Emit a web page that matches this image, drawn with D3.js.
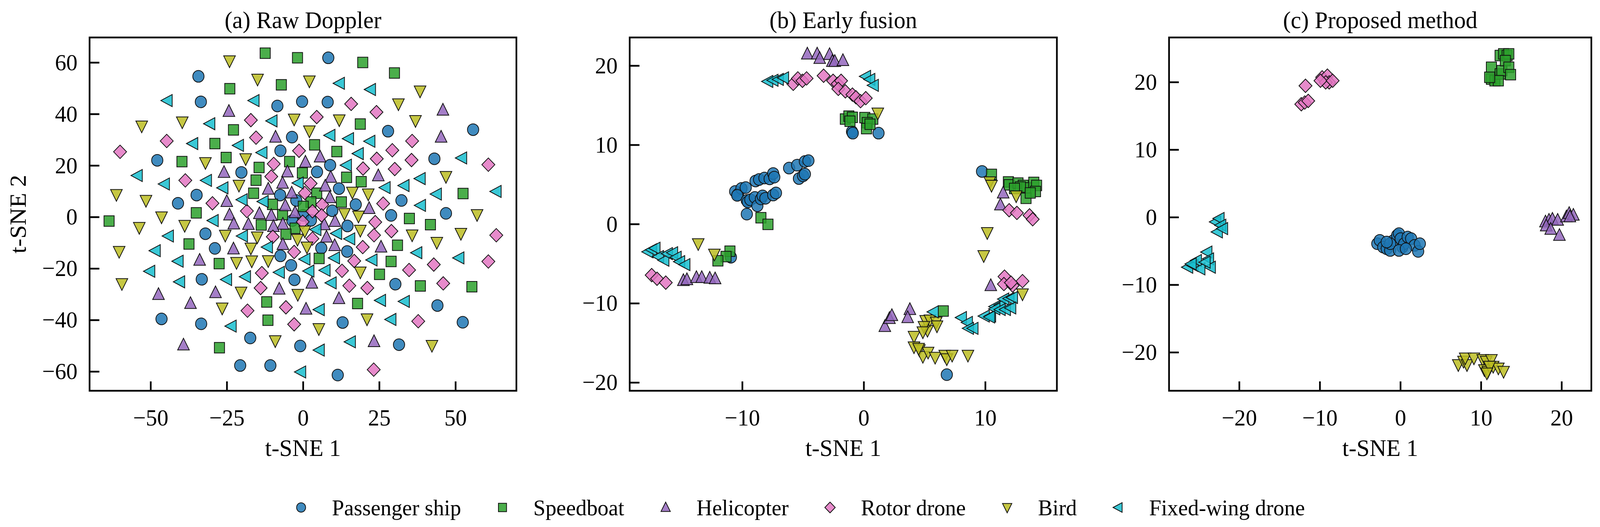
<html>
<script src="https://d3js.org/d3.v7.min.js"></script>
<style> html, body {margin:0; padding:0; overflow:hidden; background:#fff;} svg {display:block;} text {font-family:"Liberation Serif","Times New Roman",serif; fill:#000;} </style>
<body>
<svg viewBox="0 0 4251 1350" preserveAspectRatio="none" style="width:100vw;height:100vh"></svg>
<script>
// class names and colours
var classes = ["Passenger ship", "Speedboat", "Helicopter", "Rotor drone", "Bird", "Fixed-wing drone"];
var colors = ["#1f77b4", "#2ca02c", "#9467bd", "#e377c2", "#bcbd22", "#17becf"];
var shapes = ["circle", "square", "up", "diamond", "down", "left"];

// (a) raw doppler
var rawShip = [[-34.3,54.6],[-33.5,44.7],[8.3,61.8],[-0.3,44.8],[8.1,44.6],[-8.4,43.1],[27.9,33.3],[55.8,33.9],[-3.6,31.0],[-7.4,25.7],[-47.8,22.0],[8.9,20.1],[-20.2,17.3],[4.6,17.5],[43.1,22.6],[-34.9,8.5],[11.8,11.0],[-7.5,8.5],[-41.0,5.3],[-2.2,6.4],[32.3,6.4],[17.3,4.8],[9.6,2.4],[46.9,1.4],[0,0.6],[28.9,0.6],[2.6,-1.3],[-3.5,-1.4],[-32.0,-6.5],[14.6,-3.5],[-28.9,-12.2],[6.0,-12.1],[14.5,-13.4],[-7.4,-15.1],[-3.9,-18.8],[-33.2,-24.2],[-2.8,-24.4],[30.3,-26.1],[44.1,-34.4],[-46.4,-39.6],[-33.4,-41.5],[13.0,-41.0],[52.4,-40.9],[-17.3,-47.0],[-0.9,-50.1],[31.5,-49.6],[-20.6,-57.7],[-10.7,-57.7],[11.4,-61.4]];
var rawBoat = [[-12.4,63.6],[-1.8,61.8],[19.6,60.0],[30.0,55.9],[-24.0,49.8],[-7.1,51.3],[18.8,36.1],[-22.8,33.8],[3.8,28.0],[-28.9,28.5],[11.1,25.4],[-39.7,21.5],[-25.2,23.1],[-4.4,21.5],[-14.4,19.2],[-0.2,17.1],[14.3,15.4],[-15.4,14.3],[19.1,13.7],[4.5,9.2],[-16.2,9.2],[-35.0,1.6],[12.6,5.8],[2.6,5.8],[-10.0,4.9],[0.1,4.1],[-6.7,0.9],[52.5,9.1],[34.9,-0.6],[-13.7,-3.1],[-2.6,-4.4],[41.8,-3.0],[-5.6,-6.7],[-37.4,-10.5],[31.0,-11.0],[5.3,-16.1],[-27.5,-18.1],[28.9,-17.3],[25.1,-22.3],[38.5,-26.8],[55.4,-27.1],[-11.9,-33.0],[17.9,-33.6],[-11.5,-40.1],[-27.4,-50.8],[-63.6,-1.6]];
var rawHeli = [[-24.3,41.0],[45.9,41.5],[-9.0,31.0],[45.3,31.0],[5.6,23.3],[0.8,21.3],[-25.9,17.3],[-5.1,17.5],[9.1,15.4],[24.7,16.0],[-6.7,13.1],[7.3,12.0],[-11.4,10.8],[-3.7,9.3],[8.8,7.5],[-25.0,6.0],[-5.8,4.4],[21.7,3.3],[-24.1,0.8],[-14.3,1.3],[-10.4,0.6],[-2.6,1.7],[-22.7,-2.7],[-17.9,-2.9],[-6.6,-2.8],[7.0,-3.0],[10.5,-1.7],[-9.7,-3.7],[7.7,-7.8],[25.6,-11.7],[-22.8,-12.4],[-6.6,-10.7],[10.4,-11.1],[-33.9,-16.8],[2.9,-25.7],[-7.8,-28.0],[-28.7,-29.4],[-47.4,-30.1],[-36.9,-33.6],[1.0,-35.8],[11.8,-31.7],[23.3,-48.4],[-39.2,-49.7]];
var rawRotor = [[-60.0,25.3],[-44.7,29.5],[-17.1,37.6],[-15.4,30.8],[4.5,38.8],[15.8,43.9],[24.1,40.7],[35.8,29.5],[29.3,25.9],[-1.3,25.7],[-38.6,14.2],[-9.6,20.6],[-10.4,15.7],[2.5,13.0],[24.2,22.6],[35.6,22.1],[60.8,20.3],[0.6,9.3],[19.7,18.8],[30.1,18.6],[-29.7,5.3],[-18.4,2.3],[6.3,4.8],[3.1,2.2],[6.1,0.6],[26.3,5.2],[-0.1,-1.9],[23.7,-2.0],[29.0,-5.5],[23.3,-7.1],[3.1,-8.4],[-9.9,-7.7],[19.6,-11.7],[63.4,-7.1],[-2.9,-13.6],[16.8,-17.1],[12.8,-20.9],[42.9,-18.5],[60.8,-17.3],[-13.5,-21.8],[34.8,-20.6],[-13.9,-27.6],[15.2,-26.7],[21.1,-27.6],[46.0,-25.8],[-5.6,-35.1],[-18.2,-36.4],[-2.9,-41.7],[37.8,-40.5],[23.2,-59.3]];
var rawBird = [[-24.1,60.6],[-14.9,53.5],[2.1,52.8],[38.4,48.9],[31.3,43.9],[-52.9,35.3],[-39.6,36.9],[-2.9,38.0],[11.9,37.7],[2.1,33.4],[36.9,37.4],[-32.0,21.1],[-18.8,22.6],[46.9,15.7],[-21.0,12.3],[-61.2,8.7],[-51.5,6.4],[16.2,9.6],[21.4,8.9],[-46.4,0.0],[57.1,0.9],[13.6,1.3],[18.2,0.3],[-53.7,-4.1],[-38.8,-3.3],[-25.5,-7.1],[-15.0,-7.8],[0.6,-5.5],[-1.8,-8.7],[18.8,-5.2],[35.8,-7.0],[51.8,-6.4],[43.9,-9.9],[-60.3,-13.4],[-17.1,-12.1],[1.3,-11.7],[-21.8,-17.7],[-16.8,-17.1],[-11.4,-17.0],[18.8,-21.4],[-59.4,-25.9],[-20.3,-29.2],[-1.7,-30.1],[-26.5,-35.4],[21.0,-39.6],[5.2,-43.4],[-9.1,-48.1],[42.3,-49.9]];
var rawWing = [[-44.5,45.2],[-16.0,45.2],[12.0,51.9],[22.2,49.5],[-30.5,36.2],[-10.1,37.3],[8.9,31.7],[15.0,30.4],[22.0,29.4],[-36.1,28.5],[-21.1,27.8],[-13.4,25.0],[18.2,24.6],[52.1,22.9],[-54.3,16.1],[-45.4,12.8],[-31.6,14.2],[-26.2,11.3],[14.3,20.1],[-1.5,13.2],[27.0,11.4],[33.2,12.2],[38.5,14.9],[43.8,8.9],[-19.9,6.7],[-13.0,6.0],[38.6,4.5],[-29.4,-1.4],[-44.1,-7.4],[-19.8,-7.4],[-11.6,-11.7],[4.3,-4.9],[11.1,-6.4],[15.4,-8.5],[-48.4,-13.1],[-40.9,-17.2],[0.7,-16.4],[10.4,-15.9],[22.7,-16.7],[37.4,-13.9],[51.2,-15.9],[-50.2,-21.1],[-40.4,-25.2],[-25.0,-24.3],[-18.8,-23.2],[-7.7,-21.5],[2.0,-21.0],[7.3,-20.7],[9.3,-25.6],[-23.5,-42.4],[5.4,-36.0],[25.5,-32.4],[33.3,-32.8],[28.9,-39.8],[5.4,-51.7],[15.6,-48.5],[-0.7,-60.2],[63.4,9.9]];

// (b) early fusion
var earlyShip = [[-10.58,4.11],[-10.35,3.74],[-10.06,4.49],[-9.71,4.6],[-10.41,3.62],[-9.62,2.98],[-8.9,5.43],[-8.61,5.62],[-8.17,5.81],[-7.74,5.7],[-7.45,6.38],[-7.36,5.92],[-6.14,7.06],[-5.48,7.43],[-4.84,7.89],[-4.55,8.0],[-5.33,5.74],[-4.99,6.08],[-4.84,6.3],[-9.54,2.79],[-9.33,3.06],[-8.96,3.36],[-8.75,2.3],[-8.46,3.17],[-8.32,3.55],[-8.09,3.25],[-7.45,3.66],[-7.22,3.92],[-9.62,1.25],[-0.96,11.66],[-0.9,11.47],[1.22,11.47],[9.74,6.64],[6.84,-19.02],[-10.93,-4.19]];
var earlyBoat = [[-1.51,13.25],[-1.22,13.62],[-0.93,13.47],[-1.13,12.98],[0.09,13.43],[0.75,13.25],[0.29,12.79],[0.23,12.04],[0.52,12.6],[-8.46,0.79],[-7.88,-0.04],[10.52,6.26],[11.91,5.32],[11.97,4.94],[12.7,5.17],[13.13,4.87],[13.42,4.57],[14.0,5.25],[14.23,4.87],[14.14,4.11],[12.9,4.68],[13.36,3.25],[12.41,4.49],[13.71,3.92],[6.55,-10.98],[-11.01,-3.43],[-11.33,-4.11],[-12.0,-4.64]];
var earlyHeli = [[-4.64,21.47],[-3.83,21.47],[-3.62,20.91],[-2.81,21.4],[-2.58,20.53],[-2.38,20.53],[-1.71,20.64],[11.48,3.92],[11.25,2.42],[10.46,-7.77],[-14.84,-7.13],[-14.55,-7.02],[-13.77,-6.75],[-13.33,-6.75],[-12.67,-6.83],[-12.23,-6.91],[1.74,-12.94],[2.12,-11.92],[2.32,-11.55],[3.8,-10.79],[3.62,-11.81]];
var earlyRotor = [[-5.8,17.7],[-5.42,18.38],[-5.04,18.08],[-4.7,18.38],[-3.3,18.72],[-2.52,18.08],[-2.14,17.7],[-1.86,18.08],[-2.09,17.06],[-1.51,16.75],[-0.93,16.34],[-0.64,16.0],[-0.26,15.51],[0.17,15.89],[-17.45,-6.45],[-17.01,-6.91],[-16.29,-7.4],[11.97,1.74],[12.61,1.4],[13.65,1.09],[13.91,0.6],[11.59,-6.64],[11.54,-7.58],[12.26,-7.77],[13.07,-7.21],[12.12,-7.4]];
var earlyBird = [[1.16,14.0],[10.38,5.32],[10.52,4.87],[12.55,3.55],[10.17,-1.09],[9.88,-4.0],[-13.62,-2.49],[-12.29,-3.81],[4.14,-14.19],[4.14,-15.51],[4.58,-15.89],[4.87,-16.72],[5.25,-13.43],[5.1,-12.19],[5.45,-12.11],[5.97,-12.38],[6.03,-12.87],[4.96,-12.94],[5.3,-16.19],[5.88,-16.83],[6.67,-16.57],[6.84,-17.02],[7.28,-16.57],[8.58,-16.57],[13.07,-8.83],[4.87,-13.62],[4.52,-15.7]];
var earlyWing = [[-7.88,18.0],[-7.45,18.15],[-7.01,18.26],[-6.58,18.45],[0.17,18.64],[0.52,18.26],[0.81,17.51],[-17.74,-3.51],[-17.45,-3.25],[-17.16,-3.06],[-16.87,-4.11],[-16.43,-4.57],[-16.14,-3.74],[-15.71,-3.62],[-15.42,-4.19],[-15.13,-4.75],[-14.7,-5.13],[5.74,-11.09],[8.06,-11.81],[8.55,-12.42],[8.64,-13.17],[9.01,-13.17],[9.94,-11.62],[10.46,-11.62],[10.81,-10.42],[11.25,-10.23],[11.54,-9.47],[11.97,-9.4],[12.26,-9.28],[10.81,-10.72],[11.25,-10.79],[11.68,-10.79],[12.12,-10.6],[10.38,-11.74]];

// (c) proposed method
var propShip = [[-2.86,-3.93],[-2.55,-3.43],[-2.12,-4.43],[-1.69,-4.68],[-1.26,-4.93],[-0.82,-3.43],[-0.39,-2.69],[-0.17,-2.44],[0.04,-3.18],[0.26,-4.43],[0.48,-3.93],[0.91,-2.94],[1.34,-3.18],[1.77,-4.18],[2.21,-5.07],[2.42,-3.93],[-1.26,-3.93],[-0.17,-4.93],[-1.69,-3.68],[0.69,-4.68]];
var propBoat = [[11.3,22.19],[11.3,20.45],[11.73,20.2],[12.38,21.19],[12.6,21.69],[12.38,23.93],[12.81,24.18],[13.25,23.93],[13.46,24.18],[13.03,23.18],[13.46,22.19],[13.68,21.09],[12.16,20.2],[11.08,20.7]];
var propHeli = [[18.01,-0.7],[18.44,-0.45],[18.87,-0.3],[19.52,-0.45],[18.1,-1.29],[18.66,-1.79],[19.74,-2.69],[20.61,0.05],[20.95,0.55],[21.47,0.3],[21.04,0.05]];
var propRotor = [[-11.77,19.45],[-12.29,16.72],[-11.86,16.97],[-11.43,17.21],[-9.7,20.7],[-9.05,20.95],[-8.83,19.95],[-9.26,19.95],[-9.91,20.2],[-8.4,20.2]];
var propBird = [[7.19,-21.84],[7.84,-21.34],[8.27,-21.84],[8.05,-20.85],[9.13,-20.85],[10.22,-21.09],[10.65,-21.34],[11.3,-21.09],[10.43,-22.59],[10.87,-22.84],[11.52,-22.09],[12.16,-22.34],[12.81,-22.84],[11.08,-22.09],[10.74,-23.08]];
var propWing = [[-22.9,-0.7],[-22.47,-0.2],[-22.25,-1.19],[-22.68,-2.19],[-22.03,-1.69],[-23.98,-5.17],[-23.77,-6.17],[-23.55,-7.41],[-26.36,-7.41],[-25.71,-7.16],[-25.28,-6.42],[-24.85,-7.66],[-25.93,-6.92],[-24.2,-6.67]];

// panel tick values
var ticksAX = [-50, -25, 0, 25, 50], ticksAY = [-60, -40, -20, 0, 20, 40, 60];
var ticksBX = [-10, 0, 10], ticksBY = [-20, -10, 0, 10, 20];
var ticksCX = [-20, -10, 0, 10, 20], ticksCY = [-20, -10, 0, 10, 20];

var panels = [
  {title: "(a) Raw Doppler", x0: 238, x1: 1372, xd: [-70, 70], yd: [-67.5, 69.7], tx: ticksAX, ty: ticksAY,
   sets: [rawShip, rawBoat, rawHeli, rawRotor, rawBird, rawWing], ylabel: true},
  {title: "(b) Early fusion", x0: 1673, x1: 2808, xd: [-19.26, 15.9], yd: [-21.05, 23.55], tx: ticksBX, ty: ticksBY,
   sets: [earlyShip, earlyBoat, earlyHeli, earlyRotor, earlyBird, earlyWing]},
  {title: "(c) Proposed method", x0: 3106, x1: 4228, xd: [-28.7, 23.7], yd: [-25.7, 26.6], tx: ticksCX, ty: ticksCY,
   sets: [propShip, propBoat, propHeli, propRotor, propBird, propWing]}
];
var plotTop = 96, plotBottom = 1001;

function shapePath(kind, r) {
  var t = r * 1.15;
  if (kind == "circle") return "M" + r + ",0A" + r + "," + r + " 0 1,1 " + (-r) + ",0A" + r + "," + r + " 0 1,1 " + r + ",0Z";
  if (kind == "square") { var s = r * 0.9; return "M" + (-s) + "," + (-s) + "H" + s + "V" + s + "H" + (-s) + "Z"; }
  if (kind == "diamond") { var d = r * 1.15; return "M0," + (-d) + "L" + d + ",0L0," + d + "L" + (-d) + ",0Z"; }
  var a = t, c = t * 0.9;
  if (kind == "up") return "M0," + (-a) + "L" + c + "," + (a * 0.75) + "L" + (-c) + "," + (a * 0.75) + "Z";
  if (kind == "down") return "M0," + a + "L" + c + "," + (-a * 0.75) + "L" + (-c) + "," + (-a * 0.75) + "Z";
  return "M" + (-a) + ",0L" + (a * 0.75) + "," + (-c) + "L" + (a * 0.75) + "," + c + "Z";
}

var svg = d3.select("svg");

panels.forEach(function(p) {
  var sx = d3.scaleLinear().domain(p.xd).range([p.x0, p.x1]);
  var sy = d3.scaleLinear().domain(p.yd).range([plotBottom, plotTop]);
  var g = svg.append("g");

  p.sets.forEach(function(pts, ci) {
    g.append("g").selectAll("path").data(pts).enter().append("path")
      .attr("d", shapePath(shapes[ci], 15))
      .attr("transform", function(d) { return "translate(" + sx(d[0]) + "," + sy(d[1]) + ")"; })
      .attr("fill", colors[ci]).attr("fill-opacity", 0.85)
      .attr("stroke", "#111").attr("stroke-width", 2);
  });

  // axes with inward ticks
  var ax = g.append("g").attr("transform", "translate(0," + plotBottom + ")")
    .call(d3.axisBottom(sx).tickValues(p.tx).tickSize(-24).tickPadding(46));
  var ay = g.append("g").attr("transform", "translate(" + p.x0 + ",0)")
    .call(d3.axisLeft(sy).tickValues(p.ty).tickSize(-26).tickPadding(32));
  [ax, ay].forEach(function(a) {
    a.select(".domain").remove();
    a.selectAll("line").attr("stroke", "#000").attr("stroke-width", 4.5);
    a.selectAll("text").attr("font-size", 60).attr("font-family", "Liberation Serif")
      .text(function(d) { return d < 0 ? "\u2212" + (-d) : d; });
  });

  g.append("rect").attr("x", p.x0).attr("y", plotTop).attr("width", p.x1 - p.x0).attr("height", plotBottom - plotTop)
    .attr("fill", "none").attr("stroke", "#000").attr("stroke-width", 4.5);

  g.append("text").attr("x", (p.x0 + p.x1) / 2).attr("y", 72).attr("text-anchor", "middle")
    .attr("font-size", 62).text(p.title);
  g.append("text").attr("x", (p.x0 + p.x1) / 2).attr("y", 1168).attr("text-anchor", "middle")
    .attr("font-size", 62).text("t-SNE 1");
  if (p.ylabel)
    g.append("text").attr("transform", "translate(68," + (plotTop + plotBottom) / 2 + ") rotate(-90)")
      .attr("text-anchor", "middle").attr("font-size", 62).text("t-SNE 2");
});

// legend
var lg = svg.append("g");
var lx = 800;
classes.forEach(function(name, ci) {
  lg.append("path").attr("d", shapePath(shapes[ci], 12))
    .attr("transform", "translate(" + lx + ",1300)")
    .attr("fill", colors[ci]).attr("fill-opacity", 0.85).attr("stroke", "#111").attr("stroke-width", 2);
  var t = lg.append("text").attr("x", lx + 82).attr("y", 1320).attr("font-size", 58).text(name);
  lx += 82 + t.node().getComputedTextLength() + 110;
});
</script>
</body>
</html>
